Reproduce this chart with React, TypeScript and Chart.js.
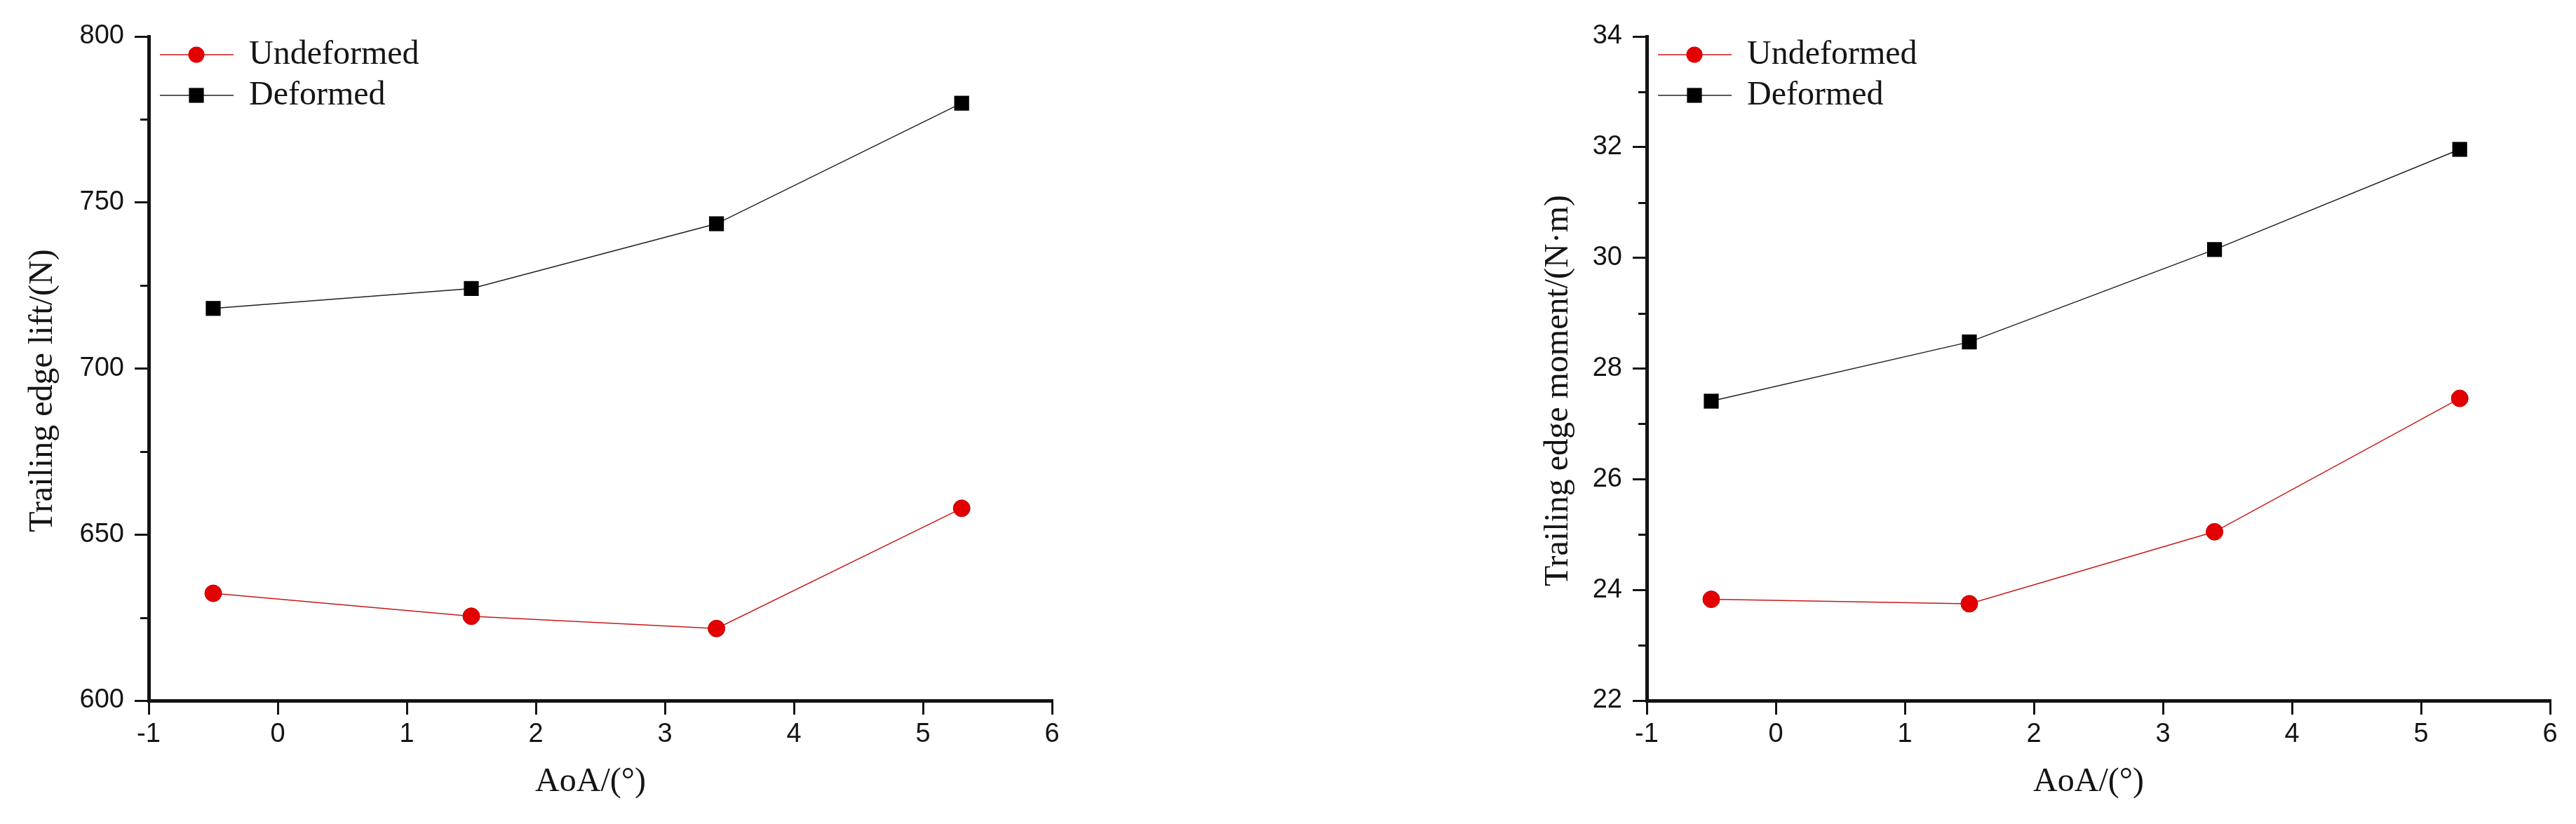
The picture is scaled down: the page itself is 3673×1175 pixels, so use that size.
import React, { useEffect, useRef } from "react";
import { Chart, registerables } from "chart.js";

Chart.register(...registerables);

// ---- data ----
const AOA = [-0.5, 1.5, 3.4, 5.3];
const LIFT_UNDEFORMED = [632.3, 625.4, 621.7, 657.9];
const LIFT_DEFORMED = [718.1, 724.1, 743.6, 779.9];
const MOMENT_UNDEFORMED = [23.83, 23.75, 25.05, 27.46];
const MOMENT_DEFORMED = [27.41, 28.48, 30.15, 31.96];
const SERIES_NAMES = ["Undeformed", "Deformed"];
const X_TITLE = "AoA/(°)";
const LIFT_TITLE = "Trailing edge lift/(N)";
const MOMENT_TITLE = "Trailing edge moment/(N·m)";
const X_RANGE = [-1, 6, 1];
const LIFT_RANGE = [600, 800, 50];
const MOMENT_RANGE = [22, 34, 2];

const RED = "#e30000";
const RED_LINE = "#c41a1a";
const BLACK = "#000000";
const INK = "#141414";
const SANS = "'Liberation Sans', Arial, sans-serif";
const SERIF = "'Liberation Serif', 'Times New Roman', serif";

const decorPlugin = {
  id: "decor",
  afterDraw(chart: any) {
    const ctx = chart.ctx as CanvasRenderingContext2D;
    const opts = chart.options.plugins.decor || {};
    const ys = chart.scales.y;
    const area = chart.chartArea;
    ctx.save();
    // minor ticks on y axis
    const minor = opts.minorStep as number;
    ctx.strokeStyle = INK;
    ctx.lineWidth = 3;
    const axisX = ys.right;
    for (let v = ys.min + minor; v < ys.max; v += 2 * minor) {
      const py = Math.round(ys.getPixelForValue(v)) + 0.5;
      ctx.beginPath();
      ctx.moveTo(axisX, py);
      ctx.lineTo(axisX - 12, py);
      ctx.stroke();
    }
    // legend (line - marker - line, then label)
    const x0 = area.left + 16;
    chart.data.datasets.forEach((ds: any, i: number) => {
      const cy = area.top + 26 + i * 58;
      ctx.strokeStyle = ds.borderColor;
      ctx.lineWidth = 1.5;
      ctx.beginPath();
      ctx.moveTo(x0, cy);
      ctx.lineTo(x0 + 105, cy);
      ctx.stroke();
      const mx = x0 + 52;
      ctx.fillStyle = ds.pointBackgroundColor;
      if (ds.pointStyle === "circle") {
        ctx.beginPath();
        ctx.arc(mx, cy, ds.pointRadius - 0.5, 0, Math.PI * 2);
        ctx.fill();
      } else {
        const half = ds.pointRadius * Math.SQRT1_2;
        ctx.fillRect(mx - half, cy - half, half * 2, half * 2);
      }
      ctx.fillStyle = INK;
      ctx.font = `48px ${SERIF}`;
      ctx.textBaseline = "middle";
      ctx.textAlign = "left";
      ctx.fillText(ds.label, x0 + 127, cy);
    });
    // axis titles
    ctx.fillStyle = INK;
    ctx.font = `48px ${SERIF}`;
    ctx.textAlign = "center";
    ctx.textBaseline = "middle";
    ctx.fillText(opts.xTitle, (area.left + area.right) / 2 - 14, 1115);
    ctx.save();
    ctx.translate(opts.yTitleX, 557);
    ctx.rotate(-Math.PI / 2);
    ctx.fillText(opts.yTitle, 0, 0);
    ctx.restore();
    ctx.restore();
  },
};

function makeConfig(p: {
  undeformed: number[];
  deformed: number[];
  yTitle: string;
  yTitleX: number;
  yRange: number[];
  yWidth: number;
  padLeft: number;
  padRight: number;
}): any {
  const tickFont = { family: SANS, size: 38 };
  const grid = {
    drawOnChartArea: false,
    drawTicks: true,
    tickLength: 20,
    lineWidth: 3,
    color: INK,
  };
  const border = { display: true, width: 5, color: INK };
  return {
    type: "line",
    data: {
      datasets: [
        {
          label: SERIES_NAMES[0],
          data: AOA.map((x, i) => ({ x, y: p.undeformed[i] })),
          borderColor: RED_LINE,
          borderWidth: 1.5,
          pointStyle: "circle",
          pointRadius: 12,
          pointBackgroundColor: RED,
          pointBorderColor: "#c00000",
          pointBorderWidth: 1,
          tension: 0,
        },
        {
          label: SERIES_NAMES[1],
          data: AOA.map((x, i) => ({ x, y: p.deformed[i] })),
          borderColor: "#202020",
          borderWidth: 1.5,
          pointStyle: "rect",
          pointRadius: 15,
          pointBackgroundColor: BLACK,
          pointBorderColor: BLACK,
          pointBorderWidth: 0,
          tension: 0,
        },
      ],
    },
    options: {
      responsive: false,
      animation: false,
      devicePixelRatio: 1,
      layout: { padding: { left: p.padLeft, right: p.padRight, top: 52, bottom: 0 } },
      plugins: {
        legend: { display: false },
        tooltip: { enabled: false },
        decor: {
          minorStep: p.yRange[2] / 2,
          xTitle: X_TITLE,
          yTitle: p.yTitle,
          yTitleX: p.yTitleX,
        },
      },
      scales: {
        x: {
          type: "linear",
          min: X_RANGE[0],
          max: X_RANGE[1],
          grid,
          border,
          ticks: {
            stepSize: X_RANGE[2],
            font: tickFont,
            color: INK,
            padding: 6,
            maxRotation: 0,
          },
          title: { display: false },
          afterFit(scale: any) {
            scale.height = 176;
          },
        },
        y: {
          type: "linear",
          min: p.yRange[0],
          max: p.yRange[1],
          grid,
          border,
          ticks: {
            stepSize: p.yRange[2],
            font: tickFont,
            color: INK,
            padding: 15,
          },
          title: { display: false },
          afterFit(scale: any) {
            scale.width = p.yWidth;
          },
        },
      },
    },
    plugins: [decorPlugin],
  };
}

export default function App() {
  const leftRef = useRef<HTMLCanvasElement | null>(null);
  const rightRef = useRef<HTMLCanvasElement | null>(null);

  useEffect(() => {
    const c1 = new Chart(
      leftRef.current as HTMLCanvasElement,
      makeConfig({
        undeformed: LIFT_UNDEFORMED,
        deformed: LIFT_DEFORMED,
        yTitle: LIFT_TITLE,
        yTitleX: 61,
        yRange: LIFT_RANGE,
        yWidth: 188,
        padLeft: 24,
        padRight: 336,
      })
    );
    const c2 = new Chart(
      rightRef.current as HTMLCanvasElement,
      makeConfig({
        undeformed: MOMENT_UNDEFORMED,
        deformed: MOMENT_DEFORMED,
        yTitle: MOMENT_TITLE,
        yTitleX: 386,
        yRange: MOMENT_RANGE,
        yWidth: 162,
        padLeft: 350,
        padRight: 37,
      })
    );
    return () => {
      c1.destroy();
      c2.destroy();
    };
  }, []);

  return (
    <div
      style={{
        position: "fixed",
        left: 0,
        top: 0,
        width: 3673,
        height: 1175,
        background: "#ffffff",
        overflow: "hidden",
      }}
    >
      <canvas
        ref={leftRef}
        width={1836}
        height={1175}
        style={{ position: "absolute", left: 0, top: 0, width: 1836, height: 1175 }}
      />
      <canvas
        ref={rightRef}
        width={1837}
        height={1175}
        style={{ position: "absolute", left: 1836, top: 0, width: 1837, height: 1175 }}
      />
    </div>
  );
}
